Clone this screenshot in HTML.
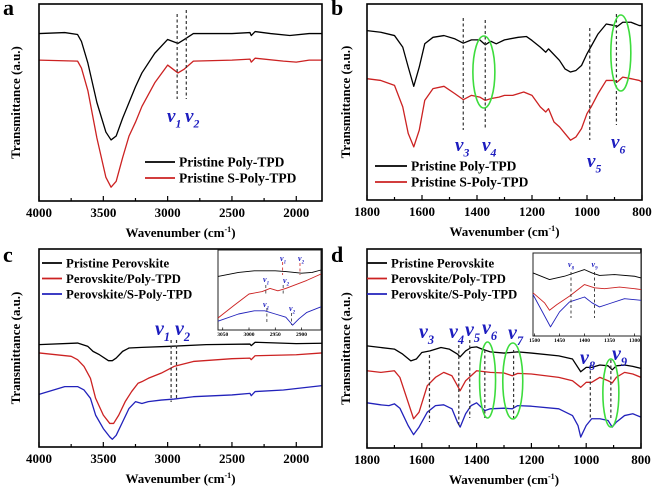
<!DOCTYPE html>
<html><head><meta charset="utf-8">
<style>
html,body{margin:0;padding:0;background:#fff;}
svg{display:block;font-family:"Liberation Serif",serif;}
.tk{font-size:13px;font-weight:bold;text-anchor:middle;}
.ttl{font-size:13px;font-weight:bold;text-anchor:middle;}
.lg{font-weight:bold;}
.pl{font-size:22px;font-weight:bold;}
.nu{font-style:italic;font-weight:900;fill:#1d1dbf;}
.itk{font-size:5.5px;font-weight:bold;text-anchor:middle;}
</style></head>
<body>
<svg id="fig" width="653" height="488" viewBox="0 0 653 488" xmlns="http://www.w3.org/2000/svg"></svg>
<script>
// ---------- data (wavenumber, transmittance a.u.) ----------
const aBlack=[[4000,85],[3800,85.5],[3700,84.5],[3670,81],[3620,70],[3550,50],[3480,35],[3440,31],[3400,33],[3350,42],[3300,50],[3250,58],[3200,65],[3100,75],[3000,82],[2920,80],[2870,82],[2800,85],[2500,85],[2360,85.5],[2350,84],[2320,86],[2200,85],[2050,84],[1900,85],[1800,85]];
const aRed=[[4000,71.5],[3700,71],[3670,67.5],[3620,56],[3550,32],[3480,12],[3440,7],[3400,10],[3350,22],[3300,33],[3250,40],[3200,48],[3100,60],[3000,69],[2920,65],[2870,67],[2800,71],[2500,71.5],[2360,72],[2350,70.5],[2320,72.5],[2100,71],[2000,70.5],[1900,71.5],[1800,71.5]];
const bBlackW=[1800,1750,1700,1670,1650,1630,1610,1590,1560,1520,1480,1450,1420,1390,1370,1350,1330,1300,1250,1220,1200,1170,1150,1140,1100,1080,1060,1040,1020,1000,990,960,930,900,890,870,840,810,800];
const bBlackT=[86.4,85.6,83.9,78,67.8,58,67.8,79.7,83,83.9,82.2,80,81.7,81.7,79.2,81,79.7,81.7,83,83.4,81.4,78,75.4,77.1,71.2,66.9,65.3,66.1,68.6,74.6,77.1,84.7,89.8,89,88.5,90.7,90.7,89,89];
const bRedW=[1800,1750,1700,1670,1650,1630,1610,1590,1560,1520,1480,1450,1420,1390,1370,1350,1320,1300,1270,1230,1200,1170,1150,1140,1120,1100,1080,1060,1040,1020,1000,985,960,930,900,890,870,840,810,800];
const bRedT=[61.9,61,58.5,47.5,33.9,27.1,35.6,50.8,56.8,58,54.2,51.2,53.4,52.5,50.8,51.7,52.5,53.4,53.4,55.1,53.4,47.5,44.9,46.6,39.8,37.3,33.9,30.5,32.2,36.4,44.1,47.5,54.2,61,61,60.2,62.7,61.9,61,60.2];
const cBlackW=[4000,3700,3620,3580,3530,3460,3430,3400,3350,3300,3200,3000,2700,2360,2350,2320,2000,1800];
const cBlackT=[51.7,52.5,50.8,48.3,46.6,43.6,43.6,44.9,48.3,50,50.3,50.8,51.7,52,51.2,52.9,52.2,52.4];
const cRedW=[4000,3750,3700,3650,3600,3560,3500,3450,3420,3380,3330,3280,3230,3200,3150,3050,2950,2800,2500,2360,2350,2320,2000,1800];
const cRedT=[47.5,45.8,44.1,40.7,34.7,24.6,16.1,11.9,11.9,16.1,22.9,28,32.2,33,34.7,37.3,40.7,43.2,44.6,44.9,44.1,46.1,46.6,47.5];
const cBlueW=[4000,3800,3700,3650,3600,3560,3500,3450,3430,3400,3350,3300,3250,3200,3150,3050,2950,2800,2500,2360,2350,2320,2100,1800];
const cBlueT=[26.6,30.5,30.5,28.8,24.6,16.1,9.3,5.1,3.9,5.9,12.7,19.5,22.9,22,22.9,23.7,24.2,25.4,26.3,27.1,25.9,28,28.8,31];
const dBlackW=[1800,1750,1700,1670,1640,1620,1600,1570,1530,1500,1470,1460,1440,1420,1400,1380,1350,1300,1250,1200,1100,1050,1020,1000,980,950,920,905,890,860,830,800];
const dBlackT=[51.3,50.5,49.7,47.2,43.8,44.7,48,48.8,50.5,49.7,47.2,45.8,48.8,50.5,50.8,49.7,48.3,47.7,48.3,47.7,46.3,44.7,38.3,40.5,40.5,41.7,41.3,39.3,41.3,41.7,41,40];
const dRedW=[1800,1750,1700,1680,1650,1630,1610,1580,1550,1520,1490,1470,1460,1440,1420,1400,1350,1300,1270,1250,1200,1100,1050,1020,1000,980,950,920,905,890,860,830,800];
const dRedT=[38.8,38,38.8,35.5,23,14.7,18,31.3,35.5,38,36.3,31.3,28.8,33.8,36.3,38.8,38,37.7,36.3,37.5,37.2,35.5,33.8,30.5,33,33,35.5,33.8,32.7,35.5,38,37.2,35.5];
const dBlueW=[1800,1750,1720,1700,1680,1650,1630,1610,1580,1550,1520,1490,1470,1460,1440,1420,1400,1370,1350,1300,1270,1250,1200,1100,1050,1030,1020,1000,980,950,920,905,890,860,830,800];
const dBlueT=[22.7,21.7,21.3,22.2,20,11.3,6.7,10.5,18,21.3,21.7,19.7,13,10.5,17.2,21.3,22.7,18.8,19.7,20,19.7,21.3,21,19.7,16.3,11.3,5.5,11.3,14.7,14.7,13.8,10.5,13,16.3,17.2,15.5];
const icBlack=[[3059,67],[3020,72],[2990,74],[2950,74],[2930,73],[2900,71],[2880,72],[2863,75]];
const icRed=[[3059,15],[3030,30],[3000,45],[2975,48],[2960,52],[2945,49],[2930,52],[2910,57],[2890,62],[2863,70]];
const icBlue=[[3059,11],[3020,20],[2990,24],[2970,24],[2950,20],[2930,16],[2922,10],[2917,6],[2905,14],[2890,22],[2863,29]];
const idBlack=[[1503,76],[1470,68],[1440,72],[1400,80],[1385,76],[1370,73],[1340,74],[1300,72],[1287,70]];
const idRed=[[1503,52],[1480,40],[1470,31],[1455,38],[1430,48],[1400,62],[1380,58],[1360,57],[1330,59],[1300,57],[1287,56]];
const idBlue=[[1503,50],[1485,30],[1468,11],[1450,29],[1430,41],[1400,47],[1385,40],[1370,35],[1350,39],[1320,45],[1287,43]];
const ticksWide=[4000,3500,3000,2500,2000];
const ticksNarrow=[1800,1600,1400,1200,1000,800];
const ticksInsetC=[3050,3000,2950,2900];
const ticksInsetD=[1500,1450,1400,1350,1300];

const NS="http://www.w3.org/2000/svg";
const svg=document.getElementById('fig');
function el(tag,attrs,parent,text){const e=document.createElementNS(NS,tag);for(const k in attrs)e.setAttribute(k,attrs[k]);if(text!==undefined)e.textContent=text;(parent||svg).appendChild(e);return e;}
function zip(w,t){return w.map((v,i)=>[v,t[i]]);}
function mkScale(d0,d1,r0,r1){return v=>r0+(v-d0)/(d1-d0)*(r1-r0);}
function line(pts,sx,sy,color,w,name,g){
  const d=pts.map((p,i)=>(i?'L':'M')+sx(p[0]).toFixed(2)+','+sy(p[1]).toFixed(2)).join('');
  const p=el('path',{d:d,fill:'none',stroke:color,'stroke-width':w,'stroke-linejoin':'round'},g);
  
  
}
function nu(x,y,sub,size,g,color){
  const t=el('text',{x:x,y:y,class:'nu','font-size':size,fill:color||'#1d1dbf'},g);
  
  
  el('tspan',{},t,'v');
  el('tspan',{dy:size*0.3,'font-size':size*0.62},t,sub);
}
function dash(x,y1,y2,g,color,w){const l=el('line',{x1:x,x2:x,y1:y1,y2:y2,stroke:color||'#333','stroke-width':w||1.2,'stroke-dasharray':'3,2.5'},g);
  
  }
function ellipse(cx,cy,rx,ry,g){const e=el('ellipse',{cx:cx,cy:cy,rx:rx,ry:ry,fill:'none',stroke:'#3ddc3d','stroke-width':1.6},g);
  
  }

function panel(o){
  const g=el('g',{});
  
  
  const sx=mkScale(o.xd[0],o.xd[1],o.x0,o.x1), sy=mkScale(0,100,o.y1,o.y0);
  const step=o.ticks[0]-o.ticks[1];
  for(let v=o.xd[0];v>=o.xd[1]-0.1;v-=step/2){
    const major=o.ticks.indexOf(v)>=0;
    el('line',{x1:sx(v),x2:sx(v),y1:o.y1,y2:o.y1-(major?5:3),stroke:'#000','stroke-width':1.2},g);
  }
  o.ticks.forEach(v=>{const t=el('text',{x:sx(v),y:o.y1+16,class:'tk'},g,String(v));
    
    });
  o.series.forEach(s=>line(s.pts,sx,sy,s.color,1.3,s.name,g));
  const fr=el('rect',{x:o.x0,y:o.y0,width:o.x1-o.x0,height:o.y1-o.y0,fill:'none',stroke:'#000','stroke-width':1.6},g);
  
  
  const xt=el('text',{x:(o.x0+o.x1)/2,y:o.y1+36,class:'ttl'},g);
  
  
  el('tspan',{},xt,'Wavenumber (cm');el('tspan',{dy:-5,'font-size':8},xt,'-1');el('tspan',{dy:5},xt,')');
  const yt=el('text',{x:0,y:0,class:'ttl',transform:`translate(${o.ytx},${(o.y0+o.y1)/2}) rotate(-90)`},g,'Transmittance (a.u.)');
  
  
  const pl=el('text',{x:o.lx,y:o.ly,class:'pl'},g,o.id);
  
  
  o.legend.forEach((L,i)=>{
    const gy=o.lgy+i*o.lgdy;
    const lg=el('g',{},g);
    
    
    el('line',{x1:o.lgx,x2:o.lgx+o.lgw,y1:gy,y2:gy,stroke:L[1],'stroke-width':1.8},lg);
    el('text',{x:o.lgx+o.lgw+4,y:gy+4.5,class:'lg','font-size':o.lgfs},lg,L[0]);
  });
  return {g,sx,sy};
}
function inset(o){
  const g=el('g',{});
  
  
  el('rect',{x:o.x0,y:o.y0,width:o.x1-o.x0,height:o.y1-o.y0,fill:'#fff',stroke:'#222','stroke-width':1},g);
  const sx=mkScale(o.xd[0],o.xd[1],o.x0,o.x1), sy=mkScale(0,100,o.y1,o.y0);
  o.series.forEach(s=>line(s.pts,sx,sy,s.color,0.9,s.name,g));
  o.ticks.forEach(v=>{el('line',{x1:sx(v),x2:sx(v),y1:o.y1,y2:o.y1-2.5,stroke:'#000','stroke-width':0.7},g);
    const t=el('text',{x:sx(v),y:o.y1+6,class:'itk'},g,String(v));
    
    });
  return {g,sx,sy};
}

// Panel a
let A=panel({id:'a',x0:39,x1:322,y0:4,y1:201,xd:[4000,1800],ticks:ticksWide,ytx:20,lx:3,ly:15,
  series:[{pts:aBlack,color:'#000',name:'pristine-poly-tpd-line'},{pts:aRed,color:'#cc2222',name:'pristine-s-poly-tpd-line'}],
  legend:[['Pristine Poly-TPD','#000'],['Pristine S-Poly-TPD','#cc2222']],lgx:145,lgw:30,lgy:162,lgdy:16,lgfs:13.5});
dash(A.sx(2926),14,99,A.g);dash(A.sx(2855),10,99,A.g);
nu(167,122,'1',19,A.g);nu(185,122,'2',19,A.g);

// Panel b
let B=panel({id:'b',x0:367,x1:642,y0:4,y1:200,xd:[1800,800],ticks:ticksNarrow,ytx:350,lx:331,ly:15,
  series:[{pts:zip(bBlackW,bBlackT),color:'#000',name:'pristine-poly-tpd-line'},{pts:zip(bRedW,bRedT),color:'#cc2222',name:'pristine-s-poly-tpd-line'}],
  legend:[['Pristine Poly-TPD','#000'],['Pristine S-Poly-TPD','#cc2222']],lgx:375,lgw:32,lgy:166,lgdy:16,lgfs:13.5});
dash(B.sx(1450),18,130,B.g);dash(B.sx(1370),20,130,B.g);dash(B.sx(990),28,140,B.g);dash(B.sx(893),14,125,B.g);
ellipse(B.sx(1375),72,11,36,B.g);ellipse(B.sx(877),53,10,38,B.g);
nu(455,151,'3',19,B.g);nu(482,151,'4',19,B.g);nu(587,167,'5',19,B.g);nu(611,148,'6',19,B.g);

// Panel c
let C=panel({id:'c',x0:39,x1:322,y0:249,y1:447,xd:[4000,1800],ticks:ticksWide,ytx:20,lx:3,ly:262,
  series:[{pts:zip(cBlackW,cBlackT),color:'#000',name:'pristine-perovskite-line'},{pts:zip(cRedW,cRedT),color:'#cc2222',name:'perovskite-poly-tpd-line'},{pts:zip(cBlueW,cBlueT),color:'#2222bb',name:'perovskite-s-poly-tpd-line'}],
  legend:[['Pristine Perovskite','#000'],['Perovskite/Poly-TPD','#cc2222'],['Perovskite/S-Poly-TPD','#2222bb']],lgx:42,lgw:20,lgy:263,lgdy:15.5,lgfs:12.8});
dash(C.sx(2973),340,402,C.g);dash(C.sx(2931),340,400,C.g);
nu(155,335,'1',20,C.g);nu(175,335,'2',20,C.g);
let IC=inset({id:'c',x0:218,x1:321,y0:250,y1:330,xd:[3059,2863],ticks:ticksInsetC,
  series:[{pts:icBlack,color:'#000',name:'inset-black-line'},{pts:icRed,color:'#cc2222',name:'inset-red-line'},{pts:icBlue,color:'#2222bb',name:'inset-blue-line'}]});
dash(IC.sx(2936),262,275,IC.g,'#cc2222',0.8);dash(IC.sx(2903),263,275,IC.g,'#cc2222',0.8);
dash(IC.sx(2968),285,296,IC.g,'#333',0.8);dash(IC.sx(2935),285,296,IC.g,'#333',0.8);
dash(IC.sx(2966),308,322,IC.g,'#333',0.8);dash(IC.sx(2919),313,325,IC.g,'#333',0.8);
nu(280,261,'1',8,IC.g);nu(298,261,'2',8,IC.g);nu(263,282,'1',8,IC.g);nu(283,283,'2',8,IC.g);
nu(263,307,'1',8,IC.g,'#cc2222');nu(289,311,'2',8,IC.g,'#cc2222');

// Panel d
let D=panel({id:'d',x0:367,x1:641,y0:249,y1:448,xd:[1800,800],ticks:ticksNarrow,ytx:350,lx:331,ly:262,
  series:[{pts:zip(dBlackW,dBlackT),color:'#000',name:'pristine-perovskite-line'},{pts:zip(dRedW,dRedT),color:'#cc2222',name:'perovskite-poly-tpd-line'},{pts:zip(dBlueW,dBlueT),color:'#2222bb',name:'perovskite-s-poly-tpd-line'}],
  legend:[['Pristine Perovskite','#000'],['Perovskite/Poly-TPD','#cc2222'],['Perovskite/S-Poly-TPD','#2222bb']],lgx:367,lgw:20,lgy:263,lgdy:15.5,lgfs:12.8});
dash(D.sx(1572),355,422,D.g);dash(D.sx(1465),345,425,D.g);dash(D.sx(1425),340,418,D.g);
dash(D.sx(1370),350,418,D.g);dash(D.sx(1265),350,418,D.g);dash(D.sx(985),365,418,D.g);dash(D.sx(910),360,420,D.g);
ellipse(D.sx(1360),380,8,38,D.g);ellipse(D.sx(1268),381,10,38,D.g);ellipse(D.sx(910),393,8,34,D.g);
nu(419,338,'3',20,D.g);nu(449,338,'4',20,D.g);nu(465,336,'5',20,D.g);nu(482,334,'6',20,D.g);
nu(508,339,'7',20,D.g);nu(580,364,'8',20,D.g);nu(612,360,'9',20,D.g);
let ID=inset({id:'d',x0:533,x1:641,y0:253,y1:336,xd:[1503,1287],ticks:ticksInsetD,
  series:[{pts:idBlack,color:'#000',name:'inset-black-line'},{pts:idRed,color:'#cc2222',name:'inset-red-line'},{pts:idBlue,color:'#2222bb',name:'inset-blue-line'}]});
dash(ID.sx(1427),272,318,ID.g,'#333',0.9);dash(ID.sx(1380),272,318,ID.g,'#333',0.9);
nu(ID.sx(1427)-3,267,'8',8,ID.g);nu(ID.sx(1380)-3,267,'9',8,ID.g);
</script>
</body></html>
